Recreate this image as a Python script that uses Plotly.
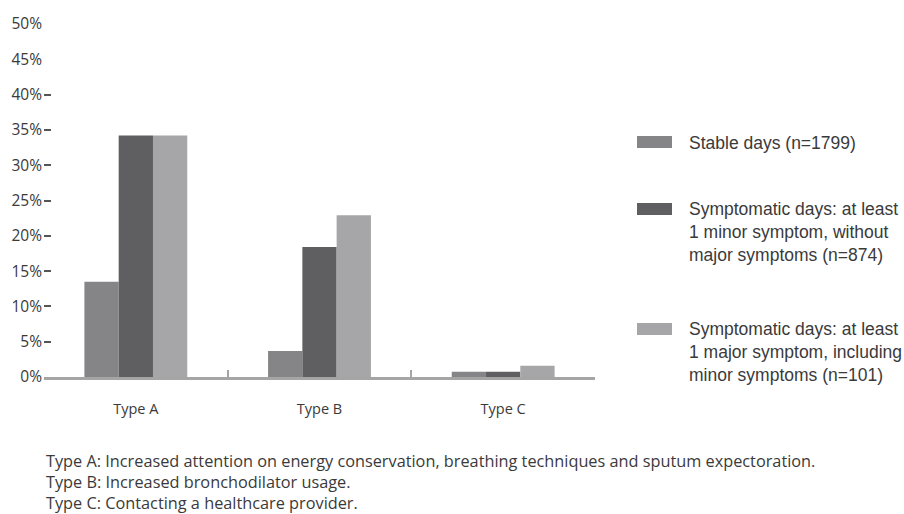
import plotly.graph_objects as go

# ---- data ----
categories = ["Type A", "Type B", "Type C"]
stable_days = [13.5, 3.7, 0.75]
symptomatic_minor = [34.2, 18.4, 0.75]
symptomatic_major = [34.2, 22.9, 1.6]
series_names = [
    "Stable days (n=1799)",
    "Symptomatic days: at least<br>1 minor symptom, without<br>major symptoms (n=874)",
    "Symptomatic days: at least<br>1 major symptom, including<br>minor symptoms (n=101)",
]
y_tick_vals = [0, 5, 10, 15, 20, 25, 30, 35, 40, 45, 50]
y_dash_vals = [5, 10, 15, 20, 25, 30, 35, 40]
footnotes = [
    "Type A: Increased attention on energy conservation, breathing techniques and sputum expectoration.",
    "Type B: Increased bronchodilator usage.",
    "Type C: Contacting a healthcare provider.",
]

colors = ["#858587", "#5f5f61", "#a6a6a8"]
TEXT = "#3a3a3a"
FONT = "Open Sans"
LEG_FONT = "Liberation Sans"

W, H = 904, 514
L, R, T, B = 44, 595, 24, 377


def px(x):
    return (x - L) / (R - L)


def py(y):
    return (B - y) / (B - T)


fig = go.Figure()
for name, vals, c in zip(series_names, [stable_days, symptomatic_minor, symptomatic_major], colors):
    fig.add_trace(go.Bar(x=categories, y=vals, name=name.replace("<br>", " "),
                         marker=dict(color=c, line=dict(width=0)), showlegend=False))

# invisible trace so the overlay axis (dash marks) is drawn
fig.add_trace(go.Scatter(x=[categories[0]], y=[0], yaxis="y2", mode="markers",
                         marker=dict(opacity=0), showlegend=False, hoverinfo="skip"))

ticktext = [f"{v}%" for v in y_tick_vals]

fig.update_layout(
    width=W, height=H,
    margin=dict(l=L, r=W - R, t=T, b=H - B),
    paper_bgcolor="white", plot_bgcolor="white",
    font=dict(family=FONT, color=TEXT, size=14),
    barmode="group", bargap=0.44, bargroupgap=0,
    xaxis=dict(type="category", showline=True, linecolor="#a5a5a5", linewidth=3,
               ticks="inside", tickson="boundaries", ticklen=7, tickwidth=2,
               tickcolor="#a5a5a5", showgrid=False, zeroline=False,
               tickfont=dict(size=14.5, color=TEXT), ticklabelstandoff=17),
    yaxis=dict(range=[0, 50], tickvals=y_tick_vals, ticktext=ticktext,
               showline=False, showgrid=False, zeroline=False, ticks="",
               tickfont=dict(size=15.5, color=TEXT), ticklabelstandoff=1),
    yaxis2=dict(range=[0, 50], overlaying="y", side="left", anchor="x",
                tickvals=y_dash_vals, showticklabels=False, ticks="inside",
                ticklen=7, tickwidth=2, tickcolor="#555555",
                showline=False, showgrid=False, zeroline=False),
)

# custom legend
legend_rows = [
    (142, 143),
    (209, 232),
    (329, 352),
]
shapes = []
annotations = []
for (sy, ty), name, c in zip(legend_rows, series_names, colors):
    shapes.append(dict(type="rect", xref="paper", yref="paper",
                       x0=px(637), x1=px(672), y0=py(sy + 6), y1=py(sy - 6),
                       fillcolor=c, line=dict(width=0)))
    annotations.append(dict(text=name, xref="paper", yref="paper", x=px(687), y=py(ty),
                            xanchor="left", yanchor="middle", align="left", showarrow=False,
                            font=dict(family=LEG_FONT, size=17.5, color=TEXT)))

for i, line in enumerate(footnotes):
    annotations.append(dict(text=line, xref="paper", yref="paper", x=px(44), y=py(461 + 21 * i),
                            xanchor="left", yanchor="middle", showarrow=False,
                            font=dict(family=FONT, size=16.3, color=TEXT)))

fig.update_layout(shapes=shapes, annotations=annotations)
fig.write_html("out.html", config={"displayModeBar": False},
               post_script="document.body.style.margin='0';document.body.style.overflow='hidden';")
